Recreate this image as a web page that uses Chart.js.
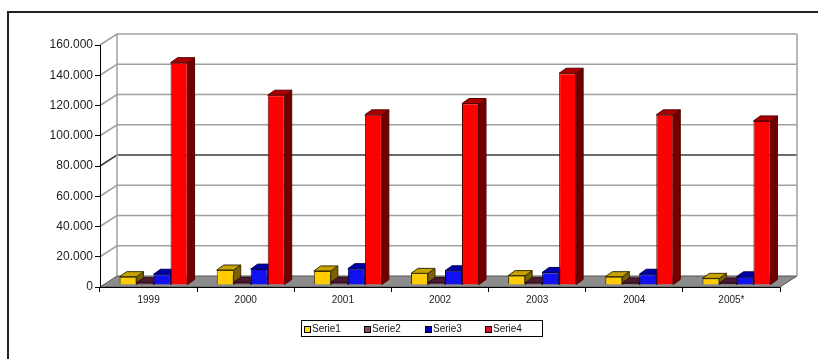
<!DOCTYPE html>
<html>
<head>
<meta charset="utf-8">
<script src="https://cdn.jsdelivr.net/npm/chart.js@4.4.1/dist/chart.umd.min.js"></script>
<style>
    html, body { margin: 0; padding: 0; background: #fff; width: 818px; height: 359px; overflow: hidden; }
    #frame { position: absolute; left: 7px; top: 11px; width: 900px; height: 400px; border: 2px solid #222; }
    #main-chart { position: absolute; left: 0; top: 0; }
    #legend { position: absolute; left: 301px; top: 320px; width: 240px; height: 15px; border: 1px solid #000;
              font: 10px Arial, "Liberation Sans", sans-serif; color: #111; white-space: nowrap; }
    #legend .item { position: absolute; top: 1px; line-height: 13px; }
    #legend .box { display: inline-block; width: 7px; height: 7px; border: 1px solid #000; box-sizing: border-box;
                   vertical-align: -1px; margin-right: 1px; }
</style>
</head>
<body>
<div id="frame"></div>
<canvas id="main-chart" width="818" height="359"></canvas>
<div id="legend"></div>
<script>
// 数据
const years = ['1999', '2000', '2001', '2002', '2003', '2004', '2005*'];
const serie1 = [5500, 9900, 9300, 7700, 6200, 5500, 4400];
const serie2 = [1500, 1800, 1800, 1600, 1500, 1400, 1300];
const serie3 = [7100, 10500, 10800, 9400, 8300, 7100, 5400];
const serie4 = [147000, 125500, 112500, 120000, 140000, 112500, 108500];
const yTicks = [0, 20000, 40000, 60000, 80000, 100000, 120000, 140000, 160000];
const seriesNames = ['Serie1', 'Serie2', 'Serie3', 'Serie4'];

// 样式
const frontColors = ['#ffcc00', '#6a2a44', '#1010f0', '#ff0000'];
const edgeColors = ['#3a3000', '#2a0a1a', '#000050', '#5a0000'];
const topColors = ['#c8a200', '#4a1a30', '#0000a8', '#a80000'];
const sideColors = ['#7a6200', '#300c1c', '#000070', '#700000'];
const legendColors = ['#ffe000', '#8b4a5e', '#0000c0', '#e0102a'];

const WALL_DX = 17, WALL_DY = -11;  // 背景墙深度
const BAR_DX = 7, BAR_DY = -5;      // 柱体深度
const SHIFT_X = 5, SHIFT_Y = -2;    // 柱体所在平面偏移

function fmt(v) {
    return String(v).replace(/\B(?=(\d{3})+(?!\d))/g, '.');
}

// 3D 背景墙和柱体侧面
const depthPlugin = {
    id: 'depth',
    beforeDraw(chart) {
        const ctx = chart.ctx, a = chart.chartArea, ys = chart.scales.y;
        ctx.save();
        // 地板
        ctx.beginPath();
        ctx.moveTo(a.left, a.bottom);
        ctx.lineTo(a.right, a.bottom);
        ctx.lineTo(a.right + WALL_DX, a.bottom + WALL_DY);
        ctx.lineTo(a.left + WALL_DX, a.bottom + WALL_DY);
        ctx.closePath();
        ctx.fillStyle = '#8c8c8c';
        ctx.fill();
        ctx.strokeStyle = '#555';
        ctx.lineWidth = 1;
        ctx.stroke();
        // 网格线
        ys.ticks.forEach(t => {
            if (t.value === 0) return;
            const py = ys.getPixelForValue(t.value);
            ctx.strokeStyle = t.value === 80000 ? '#3c3c3c' : '#a0a0a0';
            ctx.lineWidth = 1.5;
            ctx.beginPath();
            ctx.moveTo(a.left, py);
            ctx.lineTo(a.left + WALL_DX, py + WALL_DY);
            ctx.lineTo(a.right + WALL_DX, py + WALL_DY);
            ctx.stroke();
        });
        // 墙边
        ctx.strokeStyle = '#a0a0a0';
        ctx.lineWidth = 1.5;
        ctx.beginPath();
        ctx.moveTo(a.left + WALL_DX, a.top + WALL_DY);
        ctx.lineTo(a.left + WALL_DX, a.bottom + WALL_DY);
        ctx.moveTo(a.right + WALL_DX, a.top + WALL_DY);
        ctx.lineTo(a.right + WALL_DX, a.bottom + WALL_DY);
        ctx.stroke();
        ctx.restore();
    },
    beforeDatasetsDraw(chart) {
        const ctx = chart.ctx;
        ctx.save();
        ctx.translate(SHIFT_X, SHIFT_Y);
        // 先画侧面和顶面，正面由 Chart.js 盖在上面
        chart.data.datasets.forEach((ds, di) => {
            const meta = chart.getDatasetMeta(di);
            meta.data.forEach(el => {
                const p = el.getProps(['x', 'y', 'base', 'width'], true);
                const l = p.x - p.width / 2, r = p.x + p.width / 2;
                const top = Math.min(p.y, p.base), bot = Math.max(p.y, p.base);
                ctx.lineWidth = 1;
                ctx.strokeStyle = edgeColors[di];
                // 侧面
                ctx.beginPath();
                ctx.moveTo(r, top);
                ctx.lineTo(r + BAR_DX, top + BAR_DY);
                ctx.lineTo(r + BAR_DX, bot + BAR_DY);
                ctx.lineTo(r, bot);
                ctx.closePath();
                ctx.fillStyle = sideColors[di];
                ctx.fill();
                ctx.stroke();
                // 顶面
                ctx.beginPath();
                ctx.moveTo(l, top);
                ctx.lineTo(r, top);
                ctx.lineTo(r + BAR_DX, top + BAR_DY);
                ctx.lineTo(l + BAR_DX, top + BAR_DY);
                ctx.closePath();
                ctx.fillStyle = topColors[di];
                ctx.fill();
                ctx.stroke();
            });
        });
    },
    afterDatasetsDraw(chart) {
        chart.ctx.restore();
    }
};

const allSeries = [serie1, serie2, serie3, serie4];

new Chart(document.getElementById('main-chart').getContext('2d'), {
    type: 'bar',
    data: {
        labels: years,
        datasets: allSeries.map((vals, i) => ({
            label: seriesNames[i],
            data: vals,
            backgroundColor: frontColors[i],
            borderColor: edgeColors[i],
            borderWidth: 1,
            categoryPercentage: 0.7,
            barPercentage: 1.0,
            clip: false
        }))
    },
    options: {
        responsive: false,
        animation: false,
        layout: { padding: { left: 0, right: 38, top: 45, bottom: 50 } },
        plugins: {
            legend: { display: false },
            tooltip: { enabled: false }
        },
        scales: {
            x: {
                grid: { drawOnChartArea: false, color: '#000', tickLength: 5, offset: true },
                border: { color: '#000', width: 1 },
                ticks: {
                    color: '#222',
                    padding: 2,
                    maxRotation: 0,
                    font: { family: 'Arial, "Liberation Sans", sans-serif', size: 10 }
                },
                afterFit: s => { s.height = 22; }
            },
            y: {
                min: yTicks[0],
                max: yTicks[yTicks.length - 1],
                afterBuildTicks: s => { s.ticks = yTicks.map(v => ({ value: v })); },
                grid: { drawOnChartArea: false, color: '#000', tickLength: 5 },
                border: { color: '#000', width: 1 },
                ticks: {
                    color: '#222',
                    padding: 2,
                    font: { family: 'Arial, "Liberation Sans", sans-serif', size: 12 },
                    callback: v => fmt(v)
                },
                afterFit: s => { s.width = 100; }
            }
        }
    },
    plugins: [depthPlugin]
});

// 图例
const legendEl = document.getElementById('legend');
const legendLeft = [2, 62, 123, 183];
seriesNames.forEach((name, i) => {
    const item = document.createElement('span');
    item.className = 'item';
    item.style.left = legendLeft[i] + 'px';
    const box = document.createElement('span');
    box.className = 'box';
    box.style.background = legendColors[i];
    item.appendChild(box);
    item.appendChild(document.createTextNode(name));
    legendEl.appendChild(item);
});
</script>
</body>
</html>
